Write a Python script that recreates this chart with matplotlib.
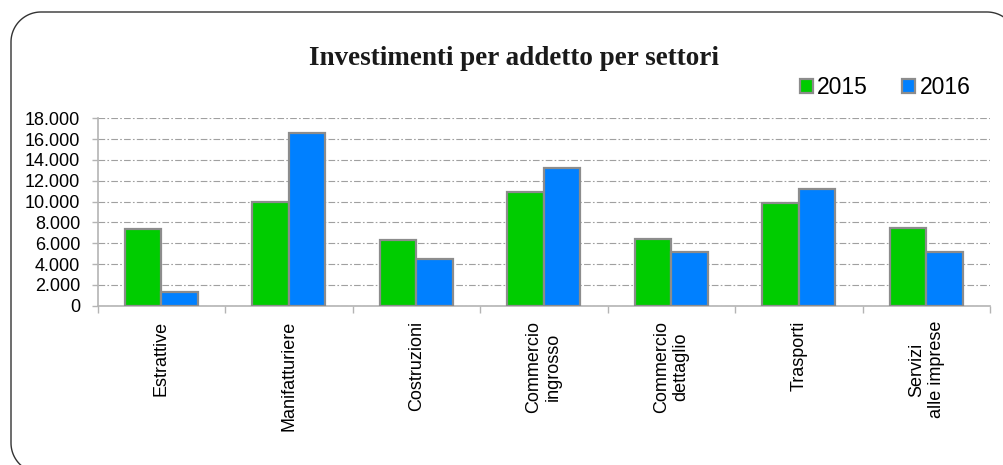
import matplotlib
matplotlib.use("Agg")
import matplotlib.pyplot as plt
import numpy as np
from matplotlib.lines import Line2D
from matplotlib.transforms import IdentityTransform
from matplotlib.ticker import FuncFormatter, FixedLocator

# data
settori = ["Estrattive", "Manifatturiere", "Costruzioni", "Commercio\ningrosso",
           "Commercio\ndettaglio", "Trasporti", "Servizi\nalle imprese"]
anni = ["2015", "2016"]
val_2015 = [7400, 10000, 6300, 10900, 6400, 9850, 7450]
val_2016 = [1300, 16600, 4500, 13200, 5200, 11250, 5200]
y_ticks = [0, 2000, 4000, 6000, 8000, 10000, 12000, 14000, 16000, 18000]

GREEN = "#00cc00"
BLUE = "#0080ff"
EDGE = "#8c8c8c"
AXIS = "#b4b4b4"

plt.rcParams["font.family"] = ["Liberation Sans", "DejaVu Sans"]

W, H = 1004, 465
fig = plt.figure(figsize=(W / 100, H / 100), dpi=100)
ax = fig.add_axes([97.7 / W, 1 - 305.7 / H, (990 - 97.7) / W, (305.7 - 118.3) / H])

x = np.arange(len(settori))
bw = 0.287
ax.bar(x - bw / 2, val_2015, bw, color=GREEN, edgecolor=EDGE, linewidth=1.6,
       label=anni[0], zorder=3)
ax.bar(x + bw / 2, val_2016, bw, color=BLUE, edgecolor=EDGE, linewidth=1.6,
       label=anni[1], zorder=3)

ax.set_xlim(-0.5, len(settori) - 0.5)
ax.set_ylim(0, 18000)
ax.set_yticks(y_ticks)
ax.yaxis.set_major_formatter(FuncFormatter(lambda v, p: f"{int(v):,}".replace(",", ".")))
ax.grid(axis="y", color="#a0a0a0", linewidth=0.8, linestyle=(0, (6, 2, 1.5, 2)), zorder=0)
ax.set_axisbelow(True)

ax.set_xticks(x)
ax.set_xticklabels(settori, rotation=90, ha="center", va="top", multialignment="center")
ax.xaxis.set_minor_locator(FixedLocator(np.arange(-0.5, len(settori), 1.0)))
ax.tick_params(axis="x", which="major", length=0, pad=11, labelsize=13)
ax.tick_params(axis="x", which="minor", length=5, color=AXIS, width=1)
ax.tick_params(axis="y", length=4.5, color=AXIS, width=1, pad=8, labelsize=13)

for s in ["top", "right"]:
    ax.spines[s].set_visible(False)
for s in ["left", "bottom"]:
    ax.spines[s].set_color(AXIS)
    ax.spines[s].set_linewidth(1.2)

fig.text(514 / W, 1 - 65 / H, "Investimenti per addetto per settori",
         family=["Liberation Serif", "DejaVu Serif"], fontweight="bold",
         fontsize=19.5, ha="center", va="baseline", color="#1a1a1a")

handles, labels = ax.get_legend_handles_labels()
fig.legend(handles, labels, loc="center left", bbox_to_anchor=(800 / W, 1 - 88 / H),
           ncol=2, frameon=False, fontsize=16.5, handlelength=0.55, handleheight=0.55,
           handletextpad=0.2, columnspacing=1.5, borderpad=0, borderaxespad=0)


# rounded frame around the chart, in pixels from the top-left; it runs off the
# right and bottom edges of the picture
def arc(cx, cy, r, a0, a1, n=30):
    t = np.radians(np.linspace(a0, a1, n))
    return cx + r * np.cos(t), cy - r * np.sin(t)


r = 30
left, top, right, bottom = 11, 12, 1017, 473
xs, ys = [left + r + 40], [bottom]
for cx, cy, a0, a1 in [(left + r, bottom - r, 270, 180),
                       (left + r, top + r, 180, 90),
                       (right - r, top + r, 90, 0)]:
    px, py = arc(cx, cy, r, a0, a1)
    xs.extend(px)
    ys.extend(py)
fig.add_artist(Line2D(xs, [H - v for v in ys], transform=IdentityTransform(),
                      color="#333333", linewidth=1.0))

fig.savefig("out.png", dpi=100)
